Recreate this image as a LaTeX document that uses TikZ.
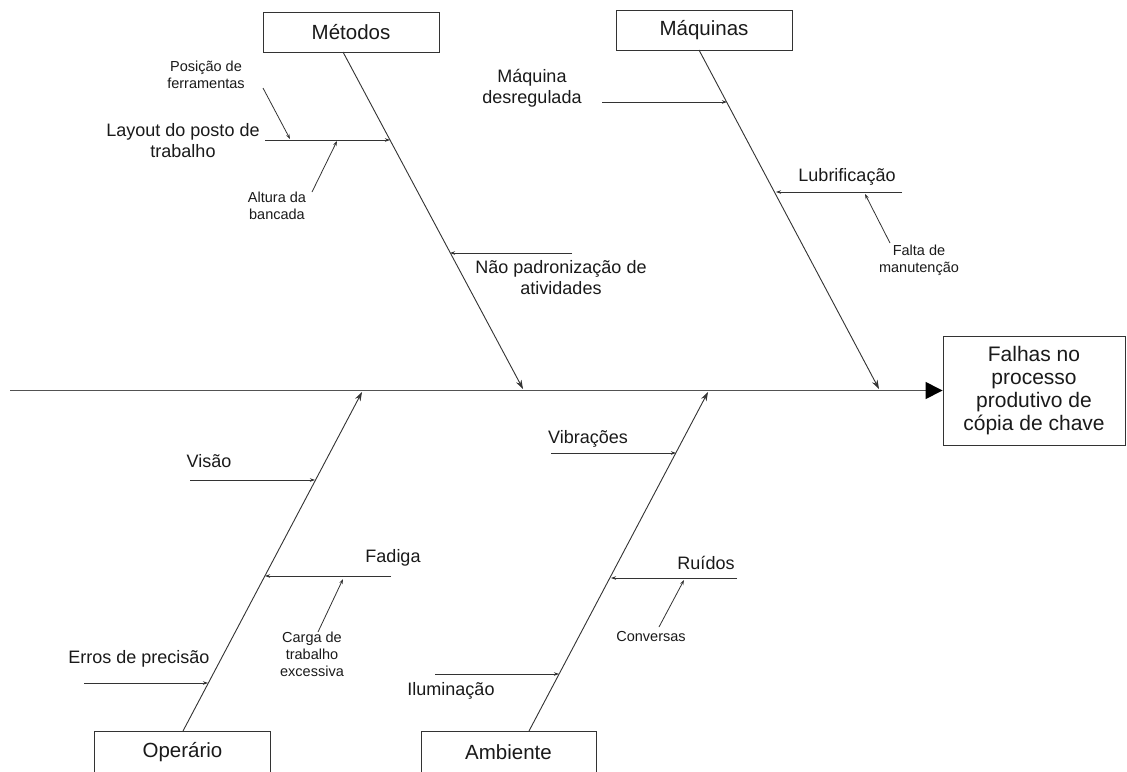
\documentclass[tikz,border=0pt]{standalone}
\usepackage{fontspec}
\setmainfont{Liberation Sans}
\usetikzlibrary{arrows.meta}
\definecolor{ln}{HTML}{333333}
\definecolor{tx}{HTML}{1A1A1A}
\tikzset{
  catbox/.style={draw=ln, line width=0.9pt, fill=white, minimum width=176pt, minimum height=40pt, inner sep=0pt, text=tx, font=\fontsize{20.5}{24}\selectfont},
  effbox/.style={draw=ln, line width=0.9pt, minimum width=182pt, minimum height=109pt, inner sep=0pt, text=tx, align=center, font=\fontsize{21}{23}\selectfont},
  mainlbl/.style={text=tx, align=center, inner sep=0pt, font=\fontsize{18}{21}\selectfont},
  smalllbl/.style={text=tx, align=center, inner sep=0pt, font=\fontsize{14.5}{17}\selectfont},
  bone/.style={draw=ln, line width=0.9pt, -{Stealth[length=9pt,width=6pt]}},
  twig/.style={draw=ln, line width=0.8pt, -{Stealth[length=5pt,width=3.5pt]}},
  spine/.style={draw=ln!85, line width=1.4pt, -{Triangle[length=17pt,width=17pt,color=black]}}
}
\begin{document}
\begin{tikzpicture}[x=1pt,y=-1pt]
\useasboundingbox (0,0) rectangle (1127,771);
\clip (0,0) rectangle (1127,771);
\fill[white] (0,0) rectangle (1127,771);
% boxes
\node[catbox] (metodos) at (351,32) {\raisebox{-1.5pt}{Métodos}};
\node[catbox] (maquinas) at (704,30.5) {\raisebox{-1.5pt}{Máquinas}};
\node[catbox, minimum height=42pt] (operario) at (182.5,752) {\raisebox{-1pt}{Operário}};
\node[catbox, minimum width=175pt, minimum height=42pt] (ambiente) at (508.5,752) {\raisebox{-1pt}{Ambiente}};
\node[effbox] (efeito) at (1034,390.5) {Falhas no\\processo\\produtivo de\\cópia de chave};
% spine
\coordinate (spL) at (10,390.5);
\draw[spine] (spL) -- (efeito.west);
% bone coordinates
\coordinate (mA) at (343,52);   \coordinate (mB) at (523,389);
\coordinate (qA) at (699,50);   \coordinate (qB) at (879,389);
\coordinate (oA) at (183,731);  \coordinate (oB) at (362,392);
\coordinate (aA) at (529,731);  \coordinate (aB) at (708,392);
\draw[bone] (mA) -- (mB);
\draw[bone] (qA) -- (qB);
\draw[bone] (oA) -- (oB);
\draw[bone] (aA) -- (aB);
% Métodos branches
\coordinate (layS) at (265,140); \coordinate (layE) at (390,140);
\draw[twig] (layS) -- (layE);
\coordinate (posS) at (263,88); \coordinate (posE) at (290,139);
\draw[twig] (posS) -- (posE);
\coordinate (altS) at (312,192); \coordinate (altE) at (337,141);
\draw[twig] (altS) -- (altE);
\coordinate (napS) at (572,253); \coordinate (napE) at (450,253);
\draw[twig] (napS) -- (napE);
% Máquinas branches
\coordinate (mdS) at (602,102); \coordinate (mdE) at (727,102);
\draw[twig] (mdS) -- (mdE);
\coordinate (lubS) at (902,192); \coordinate (lubE) at (776,192);
\draw[twig] (lubS) -- (lubE);
\coordinate (ftS) at (890,243); \coordinate (ftE) at (865,194);
\draw[twig] (ftS) -- (ftE);
% Operário branches
\coordinate (visS) at (190,480); \coordinate (visE) at (315,480);
\draw[twig] (visS) -- (visE);
\coordinate (fadS) at (391,576); \coordinate (fadE) at (265,576);
\draw[twig] (fadS) -- (fadE);
\coordinate (carS) at (318,632); \coordinate (carE) at (343,579);
\draw[twig] (carS) -- (carE);
\coordinate (errS) at (84,683); \coordinate (errE) at (208,683);
\draw[twig] (errS) -- (errE);
% Ambiente branches
\coordinate (vibS) at (551,453); \coordinate (vibE) at (676,453);
\draw[twig] (vibS) -- (vibE);
\coordinate (ruiS) at (737,578); \coordinate (ruiE) at (611,578);
\draw[twig] (ruiS) -- (ruiE);
\coordinate (conS) at (659,627); \coordinate (conE) at (684,580);
\draw[twig] (conS) -- (conE);
\coordinate (ilS) at (435,674); \coordinate (ilE) at (559,674);
\draw[twig] (ilS) -- (ilE);
% labels
\node[smalllbl] (tpos) at (206,75) {Posição de\\ferramentas};
\node[mainlbl] (tlay) at (183,140.5) {Layout do posto de\\trabalho};
\node[smalllbl] (talt) at (277,205.5) {Altura da\\bancada};
\node[mainlbl] (tnap) at (561,277.5) {Não padronização de\\atividades};
\node[mainlbl] (tmd) at (532,88.5) {Máquina\\desregulada};
\node[mainlbl] (tlub) at (847,177) {Lubrificação};
\node[smalllbl] (tft) at (919,260) {Falta de\\manutenção};
\node[mainlbl] (tvis) at (209,461) {Visão};
\node[mainlbl] (tfad) at (393,558) {Fadiga};
\node[smalllbl] (tcar) at (312,654.5) {Carga de\\trabalho\\excessiva};
\node[mainlbl] (terr) at (139,659) {Erros de precisão};
\node[mainlbl] (tvib) at (588,439) {Vibrações};
\node[mainlbl] (trui) at (706,563) {Ruídos};
\node[smalllbl] (tcon) at (651,637) {Conversas};
\node[mainlbl] (til) at (451,691) {Iluminação};
\end{tikzpicture}
\end{document}
